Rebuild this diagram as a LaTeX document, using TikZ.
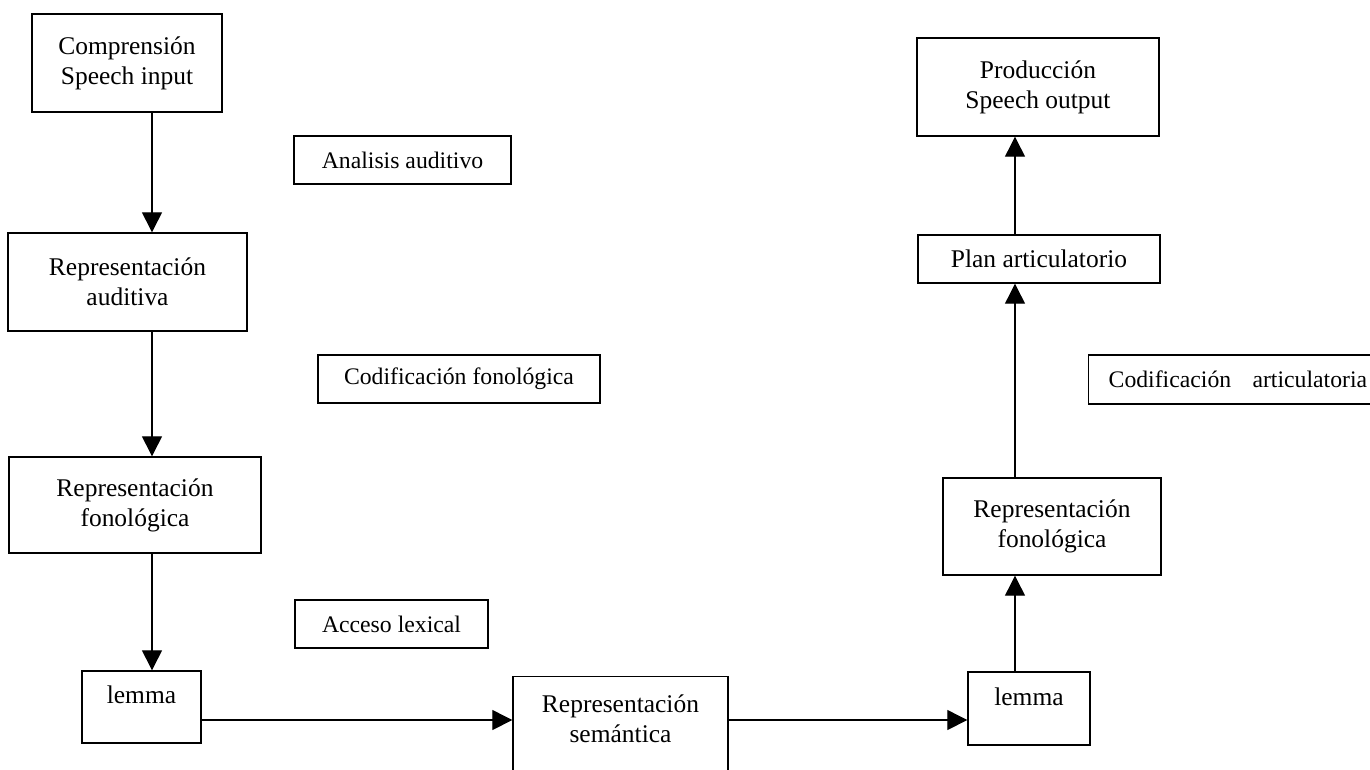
\documentclass[tikz,border=0pt]{standalone}
\usepackage{fontspec}
\setmainfont{Liberation Serif}
\usetikzlibrary{arrows.meta}

\tikzset{
  caja/.style={draw, line width=0.8pt, align=center, inner sep=0pt,
    font=\fontsize{14.5}{17}\selectfont},
  proceso/.style={caja, minimum height=0.96cm, font=\fontsize{13.5}{16}\selectfont},
  alta/.style={text height=10pt, text depth=13.6pt},
  flecha/.style={line width=0.7pt, -{Triangle[length=0.4cm,width=0.4cm]}}
}

\begin{document}
\begin{tikzpicture}[x=0.02cm, y=-0.02cm]
  \useasboundingbox (0,0) rectangle (1370,769);
  \clip (0,0) rectangle (1370,769);
  % comprension
  \node[caja, minimum width=3.8cm, minimum height=1.96cm] (comp) at (127,63) {Comprensión\\Speech input};
  \node[caja, minimum width=4.78cm, minimum height=1.96cm] (aud) at (127.5,282) {Representación\\auditiva};
  \node[caja, minimum width=5.04cm, minimum height=1.92cm] (fonL) at (135,505) {Representación\\fonológica};
  \node[caja, alta, minimum width=2.38cm, minimum height=1.44cm] (lemL) at (141.5,707) {lemma};
  % procesos
  \node[proceso, minimum width=4.34cm] (anal) at (402.5,160) {Analisis auditivo};
  \node[proceso, minimum width=5.64cm] (codF) at (459,379) {Codificación fonológica};
  \node[proceso, minimum width=3.86cm] (acc) at (391.5,624) {Acceso lexical};
  \node[proceso, anchor=west, inner xsep=0.4cm, minimum height=0.98cm] (codA) at (1088,379.5) {Codificación\hspace{0.9em}articulatoria};
  % semantica
  \node[caja, anchor=north, minimum width=4.3cm, inner ysep=0.36cm,
    text height=27pt, text depth=28pt] (sem) at (620.5,676) {Representación\\semántica};
  % produccion
  \node[caja, alta, minimum width=2.44cm, minimum height=1.46cm] (lemR) at (1029,708.5) {lemma};
  \node[caja, minimum width=4.36cm, minimum height=1.94cm] (fonR) at (1052,526.5) {Representación\\fonológica};
  \node[caja, minimum width=4.84cm, minimum height=0.96cm] (plan) at (1039,259) {Plan articulatorio};
  \node[caja, minimum width=4.84cm, minimum height=1.96cm] (prod) at (1038,87) {Producción\\Speech output};

  \coordinate (ejeL) at (152,0);
  \coordinate (ejeR) at (1015,0);
  \coordinate (ejeH) at (0,720);

  \draw[flecha] (comp.south -| ejeL) -- (aud.north -| ejeL);
  \draw[flecha] (aud.south -| ejeL) -- (fonL.north -| ejeL);
  \draw[flecha] (fonL.south -| ejeL) -- (lemL.north -| ejeL);
  \draw[flecha] (lemL.east |- ejeH) -- (sem.west |- ejeH);
  \draw[flecha] (sem.east |- ejeH) -- (lemR.west |- ejeH);
  \draw[flecha] (lemR.north -| ejeR) -- (fonR.south -| ejeR);
  \draw[flecha] (fonR.north -| ejeR) -- (plan.south -| ejeR);
  \draw[flecha] (plan.north -| ejeR) -- (prod.south -| ejeR);
\end{tikzpicture}
\end{document}
